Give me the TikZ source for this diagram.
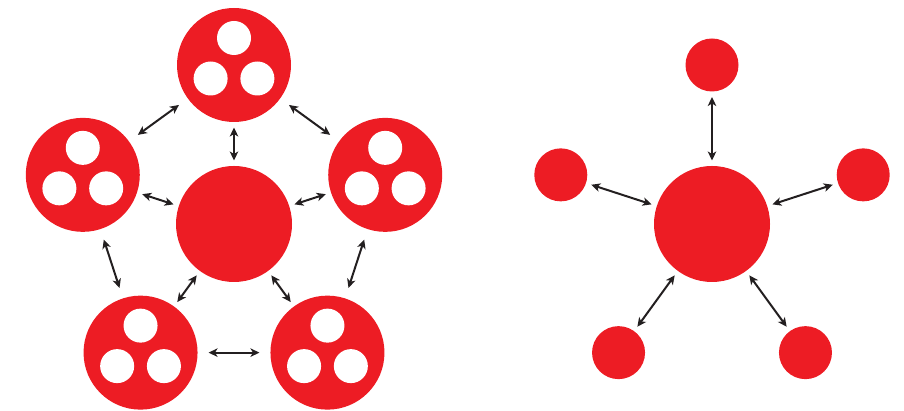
\documentclass[tikz,border=0pt]{standalone}
\usetikzlibrary{arrows.meta,calc}
\definecolor{dotred}{HTML}{ED1C24}
\definecolor{ink}{HTML}{231F20}
\begin{document}
\begin{tikzpicture}[x=1pt,y=1pt,
  hub/.style={circle,fill=dotred,inner sep=0pt,outer sep=0pt,minimum size=116pt},
  group/.style={circle,fill=dotred,inner sep=0pt,outer sep=0pt,minimum size=114pt},
  hole/.style={circle,fill=white,inner sep=0pt,outer sep=0pt,minimum size=34pt},
  leaf/.style={circle,fill=dotred,inner sep=0pt,outer sep=0pt,minimum size=53pt},
  link/.style={draw=ink,line width=2pt,
    {Stealth[length=9pt,width=8.5pt,inset=2.5pt]}-{Stealth[length=9pt,width=8.5pt,inset=2.5pt]}},
  near/.style={link,shorten <=5.5pt,shorten >=5.5pt},
  far/.style={link,shorten <=11pt,shorten >=11pt}]
\useasboundingbox (0,0) rectangle (904,411);

% Left: a hub surrounded by five groups of three
\node[hub] (c) at (234,187) {};
\foreach \n/\a in {t/90,l/162,r/18,bl/234,br/306}{
  \node[group] (\n) at ($(c)+(\a:159)$) {};
  \foreach \h/\b in {1/90,2/210,3/330}
    \node[hole] (\n\h) at ($(\n)+(\b:27)$) {};
}
\foreach \n in {t,l,r,bl,br}
  \draw[near] (c) -- (\n);
\draw[far] (t) -- (r);
\draw[far] (r) -- (br);
\draw[far] (br) -- (bl);
\draw[far] (bl) -- (l);
\draw[far] (l) -- (t);

% Right: a hub with five single satellites
\node[hub] (h) at (712,187) {};
\foreach \n/\a in {st/90,sl/162,sr/18,sbl/234,sbr/306}{
  \node[leaf] (\n) at ($(h)+(\a:159)$) {};
  \draw[near] (h) -- (\n);
}
\end{tikzpicture}
\end{document}
